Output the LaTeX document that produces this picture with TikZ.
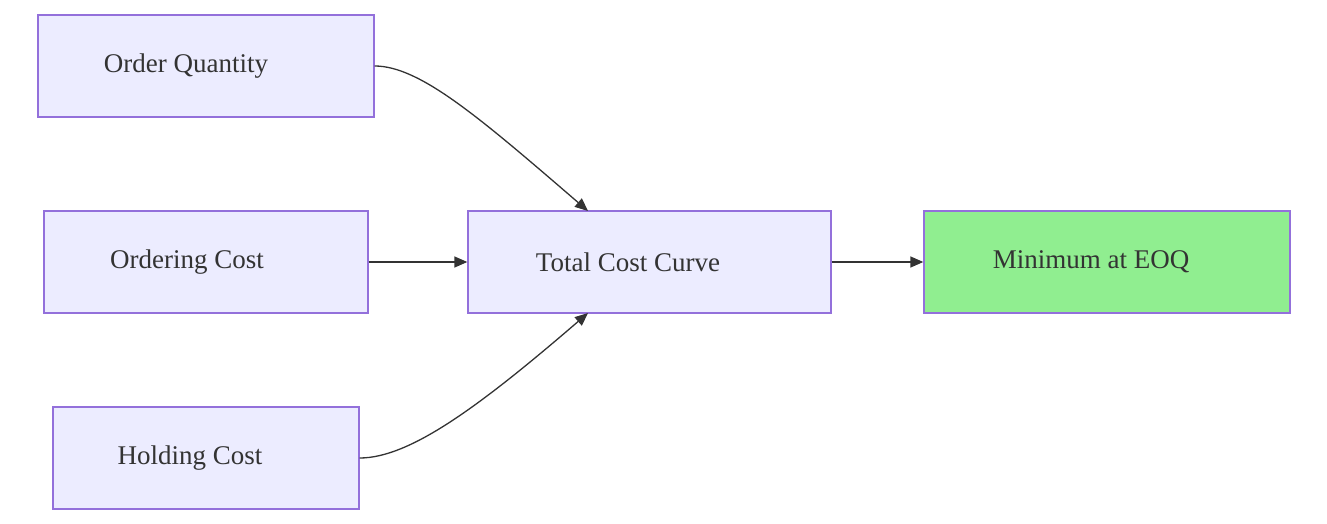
\documentclass[tikz,border=0pt]{standalone}
\usepackage{fontspec}
\setmainfont{Liberation Serif}
\usetikzlibrary{arrows.meta}
\definecolor{boxfill}{HTML}{ECECFF}
\definecolor{boxline}{HTML}{9370DB}
\definecolor{txt}{HTML}{333333}
\definecolor{grn}{HTML}{90EE90}
\begin{document}
\begin{tikzpicture}[x=1pt,y=-1pt,
  box/.style={draw=boxline,fill=boxfill,line width=1.3pt,minimum height=102pt,inner sep=0pt},
  lbl/.style={text=txt,font=\fontsize{27}{30}\selectfont,inner sep=0pt},
  arr/.style={draw=txt,line width=1.3pt,-{Triangle[length=13pt,width=11pt]}}]
\useasboundingbox (0,0) rectangle (1327,524);
\node[box,minimum width=336pt] (oq) at (206,66) {};
\node[box,minimum width=324pt] (oc) at (206,262) {};
\node[box,minimum width=306pt] (hc) at (206,458) {};
\node[box,minimum width=363pt] (tc) at (649.5,262) {};
\node[box,minimum width=366pt,fill=grn] (me) at (1107,262) {};
\node[lbl] (l1) at (186,66) {Order Quantity};
\node[lbl] (l2) at (187,262) {Ordering Cost};
\node[lbl] (l3) at (190,458) {Holding Cost};
\node[lbl] (l4) at (628,262) {Total Cost Curve};
\node[lbl] (l5) at (1091,262) {Minimum at EOQ};
\coordinate (t1) at (588,211);
\coordinate (t2) at (588,313);
\draw[arr] (oq.east) .. controls (420,66) and (480,118) .. (t1);
\draw[arr] (hc.east) .. controls (410,458) and (480,406) .. (t2);
\draw[arr] (oc.east) -- (tc.west);
\draw[arr] (tc.east) -- (me.west);
\end{tikzpicture}
\end{document}
